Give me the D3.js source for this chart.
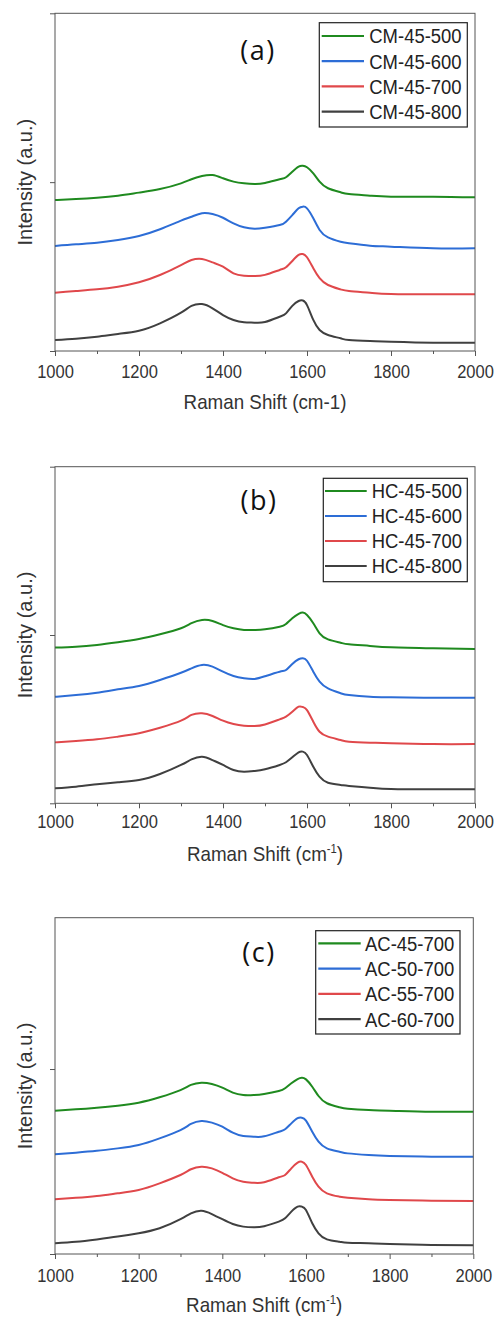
<!DOCTYPE html>
<html><head><meta charset="utf-8">
<script src="https://cdn.jsdelivr.net/npm/d3@7"></script>
<style>body{margin:0;background:#fff} svg{display:block}</style>
</head><body>
<svg id="chart" width="498" height="1321"></svg>
<script>
// ---- data (intensities in a.u., stacked offsets as plotted) ----
const ramanShift = [1000,1050,1100,1150,1200,1250,1300,1325,1350,1375,1400,1425,1450,1475,1500,1535,1550,1565,1580,1590,1600,1615,1630,1650,1680,1700,1750,1800,1900,2000];
const xTickValues = [1000,1200,1400,1600,1800,2000];
const xMinorTicks = [1100,1300,1500,1700,1900];
const seriesColors = ["#1f8a1f","#2d6dd6","#e0484b","#404040"];

const namesA = ["CM-45-500","CM-45-600","CM-45-700","CM-45-800"];
const cm45_500 = [0.894,0.900,0.908,0.920,0.938,0.959,0.993,1.017,1.036,1.042,1.023,1.003,0.993,0.989,0.995,1.017,1.029,1.062,1.092,1.097,1.088,1.052,1.003,0.964,0.940,0.930,0.920,0.914,0.914,0.910];
const cm45_600 = [0.622,0.632,0.641,0.657,0.681,0.721,0.772,0.795,0.816,0.811,0.789,0.756,0.733,0.724,0.730,0.746,0.766,0.805,0.845,0.855,0.845,0.786,0.717,0.673,0.647,0.638,0.624,0.618,0.608,0.608];
const cm45_700 = [0.345,0.355,0.365,0.381,0.407,0.450,0.509,0.539,0.545,0.525,0.499,0.460,0.446,0.444,0.451,0.480,0.496,0.533,0.569,0.574,0.555,0.490,0.431,0.391,0.365,0.355,0.345,0.338,0.336,0.336];
const cm45_800 = [0.065,0.073,0.085,0.101,0.120,0.164,0.227,0.267,0.278,0.253,0.213,0.184,0.170,0.168,0.172,0.203,0.223,0.267,0.296,0.299,0.272,0.184,0.124,0.095,0.075,0.065,0.059,0.055,0.049,0.049];

const namesB = ["HC-45-500","HC-45-600","HC-45-700","HC-45-800"];
const hc45_500 = [0.925,0.930,0.941,0.957,0.976,1.004,1.040,1.070,1.089,1.083,1.059,1.040,1.030,1.030,1.034,1.049,1.065,1.099,1.125,1.133,1.119,1.070,1.010,0.974,0.954,0.945,0.935,0.927,0.921,0.917];
const hc45_600 = [0.633,0.643,0.657,0.677,0.697,0.733,0.776,0.802,0.822,0.812,0.782,0.756,0.743,0.739,0.755,0.782,0.792,0.828,0.856,0.862,0.847,0.782,0.723,0.683,0.654,0.643,0.633,0.630,0.627,0.627];
const hc45_700 = [0.362,0.370,0.380,0.396,0.416,0.449,0.491,0.525,0.535,0.519,0.491,0.471,0.461,0.459,0.468,0.499,0.515,0.544,0.574,0.572,0.554,0.485,0.425,0.396,0.376,0.366,0.360,0.357,0.352,0.352];
const hc45_800 = [0.089,0.099,0.113,0.125,0.138,0.174,0.228,0.261,0.277,0.257,0.228,0.198,0.188,0.192,0.202,0.228,0.244,0.273,0.303,0.307,0.287,0.217,0.158,0.122,0.109,0.103,0.093,0.085,0.083,0.083];

const namesC = ["AC-45-700","AC-50-700","AC-55-700","AC-60-700"];
const ac45_700 = [0.775,0.782,0.791,0.802,0.818,0.847,0.886,0.914,0.926,0.919,0.899,0.872,0.859,0.859,0.865,0.881,0.896,0.923,0.946,0.953,0.944,0.904,0.854,0.815,0.793,0.785,0.778,0.775,0.769,0.769];
const ac50_700 = [0.539,0.548,0.558,0.571,0.589,0.625,0.670,0.703,0.719,0.710,0.688,0.656,0.638,0.634,0.636,0.661,0.674,0.706,0.734,0.737,0.721,0.661,0.607,0.571,0.553,0.544,0.535,0.530,0.526,0.526];
const ac55_700 = [0.296,0.304,0.314,0.328,0.346,0.382,0.427,0.458,0.472,0.463,0.439,0.409,0.391,0.385,0.388,0.415,0.427,0.463,0.494,0.499,0.481,0.418,0.364,0.328,0.310,0.304,0.296,0.292,0.288,0.286];
const ac60_700 = [0.058,0.066,0.079,0.094,0.112,0.139,0.188,0.220,0.234,0.216,0.188,0.162,0.148,0.144,0.150,0.175,0.193,0.229,0.256,0.256,0.238,0.166,0.112,0.079,0.066,0.061,0.058,0.054,0.049,0.047];

const yTicksAB = [0,1,2];
const yTicksC = [0,1];

// ---- layout ----
const panels = [
  {label:"(a)", names:namesA, series:[cm45_500,cm45_600,cm45_700,cm45_800], yTicks:yTicksAB, yMax:2, sup:false,
   left:55, right:475, top:13.3, bottom:351, tickPad:9,
   lg:{x:319.3, y:22.7, w:148, h:104.3, row0:36, step:25.2, l1:321.7, l2:364, tx:369.3},
   lab:{x:258, y:60}},
  {label:"(b)", names:namesB, series:[hc45_500,hc45_600,hc45_700,hc45_800], yTicks:yTicksAB, yMax:2, sup:true,
   left:55, right:475, top:466.7, bottom:803.3, tickPad:7,
   lg:{x:323.3, y:478.3, w:144, h:103.4, row0:491, step:25, l1:325, l2:366.7, tx:371.7},
   lab:{x:259, y:510}},
  {label:"(c)", names:namesC, series:[ac45_700,ac50_700,ac55_700,ac60_700], yTicks:yTicksC, yMax:1.818, sup:true,
   left:55, right:473.3, top:917.7, bottom:1254, tickPad:9.5,
   lg:{x:315.7, y:930.7, w:144.3, h:103.3, row0:943.3, step:25.3, l1:318.3, l2:360.7, tx:365},
   lab:{x:259, y:961.7}}
];

const svg = d3.select("#chart");
const FONT = "'Liberation Sans', Arial, sans-serif";
const AX = "#555";

panels.forEach(p => {
  const x = d3.scaleLinear().domain([1000,2000]).range([p.left,p.right]);
  const y = d3.scaleLinear().domain([0,p.yMax]).range([p.bottom,p.top]);
  const g = svg.append("g");

  // curves
  const line = d3.line().x((d,i)=>x(ramanShift[i])).y(d=>y(d)).curve(d3.curveNatural);
  p.series.forEach((s,i)=>{
    g.append("path").datum(s).attr("d",line)
      .attr("fill","none").attr("stroke",seriesColors[i]).attr("stroke-width",2)
      .attr("stroke-linejoin","round");
  });

  // frame
  g.append("rect").attr("x",p.left).attr("y",p.top).attr("width",p.right-p.left).attr("height",p.bottom-p.top)
    .attr("fill","none").attr("stroke",AX).attr("stroke-width",1);

  // x axis major
  const xa = g.append("g").attr("transform",`translate(0,${p.bottom})`)
    .call(d3.axisBottom(x).tickValues(xTickValues).tickSize(5).tickPadding(p.tickPad).tickFormat(d3.format("d")));
  xa.select(".domain").remove();
  xa.selectAll("line").attr("stroke",AX);
  xa.selectAll("text").attr("font-family",FONT).attr("font-size",18.6).attr("fill","#333")
    .attr("transform","scale(0.887,1)");
  // x axis minor
  const xm = g.append("g").attr("transform",`translate(0,${p.bottom})`)
    .call(d3.axisBottom(x).tickValues(xMinorTicks).tickSize(3).tickFormat(""));
  xm.select(".domain").remove();
  xm.selectAll("line").attr("stroke",AX);

  // y axis ticks
  const ya = g.append("g").attr("transform",`translate(${p.left},0)`)
    .call(d3.axisLeft(y).tickValues(p.yTicks).tickSize(5).tickFormat(""));
  ya.select(".domain").remove();
  ya.selectAll("line").attr("stroke",AX);

  // x title
  const xt = g.append("text").attr("transform",`translate(${(p.left+p.right)/2},${p.bottom+58}) scale(0.94,1)`)
    .attr("text-anchor","middle").attr("font-family",FONT).attr("font-size",20).attr("fill","#333");
  if (p.sup) {
    xt.append("tspan").text("Raman Shift (cm");
    xt.append("tspan").attr("font-size",12).attr("dy",-8).text("-1");
    xt.append("tspan").attr("dy",8).text(")");
  } else {
    xt.text("Raman Shift (cm-1)");
  }

  // y title
  g.append("text").attr("transform",`translate(32,${(p.top+p.bottom)/2}) rotate(-90)`)
    .attr("text-anchor","middle").attr("font-family",FONT).attr("font-size",20).attr("fill","#333")
    .text("Intensity (a.u.)");

  // panel label
  g.append("text").attr("x",p.lab.x).attr("y",p.lab.y).attr("text-anchor","middle")
    .attr("font-family","'Open Sans', 'Noto Sans', sans-serif").attr("font-size",27).attr("letter-spacing",1.5)
    .attr("fill","#111").text(p.label);

  // legend
  const L = p.lg;
  g.append("rect").attr("x",L.x).attr("y",L.y).attr("width",L.w).attr("height",L.h)
    .attr("fill","#fff").attr("stroke","#222").attr("stroke-width",1.2);
  p.names.forEach((n,i)=>{
    const ry = L.row0 + i*L.step;
    g.append("line").attr("x1",L.l1).attr("x2",L.l2).attr("y1",ry).attr("y2",ry)
      .attr("stroke",seriesColors[i]).attr("stroke-width",2.2);
    g.append("text").attr("transform",`translate(${L.tx},${ry+7.4}) scale(0.9,1)`)
      .attr("font-family",FONT).attr("font-size",20.5).attr("fill","#222").text(n);
  });
});
</script>
</body></html>
